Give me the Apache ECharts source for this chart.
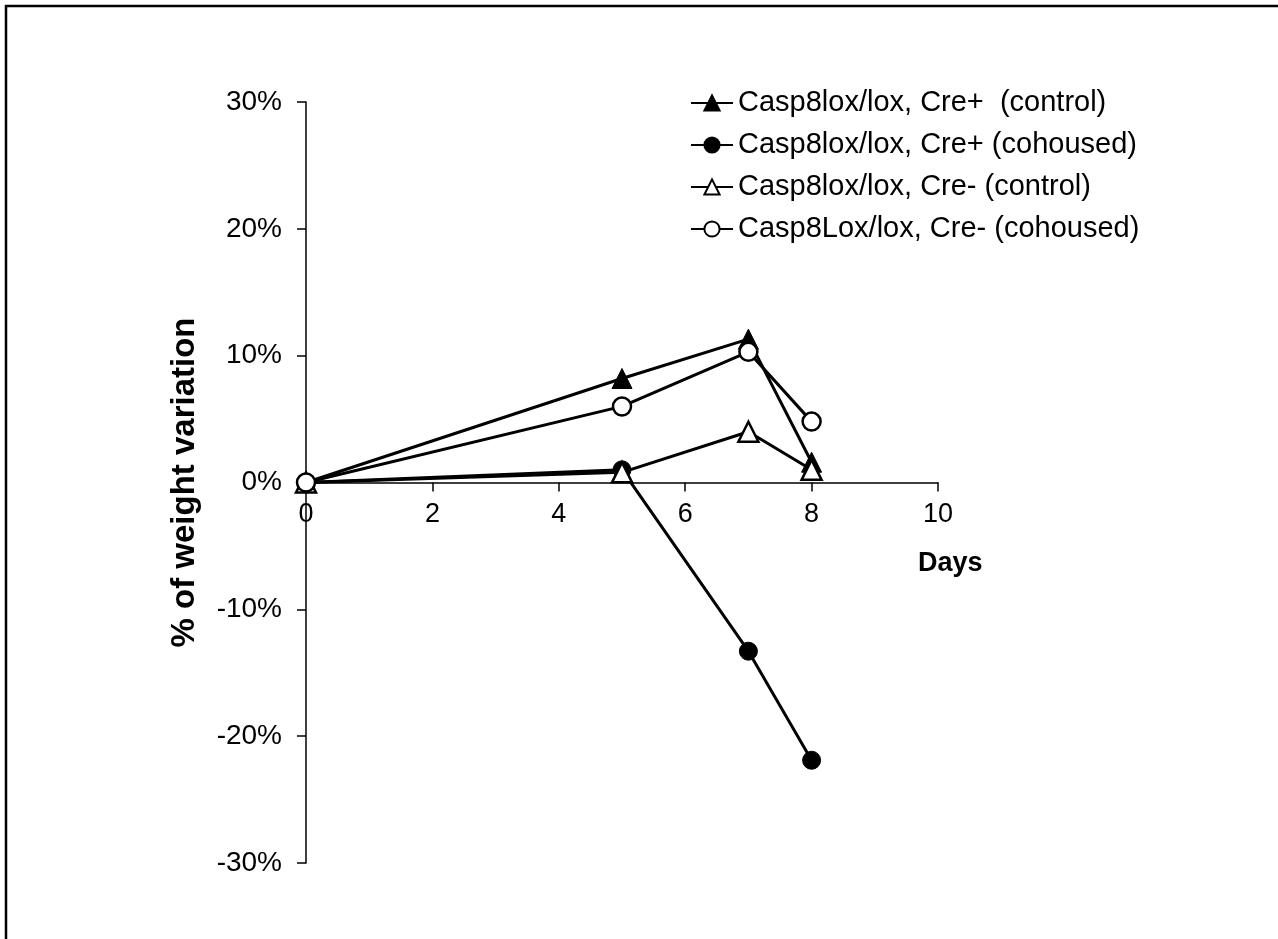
<!DOCTYPE html>
<html><head><meta charset="utf-8">
<script src="https://cdn.jsdelivr.net/npm/echarts@6/dist/echarts.min.js"></script>
<style>html,body{margin:0;padding:0;background:#fff}#c{width:1278px;height:939px}</style>
</head><body><div id="c"></div>
<script>
// ---- data ----
const days = [0, 5, 7, 8];
const seriesNames = [
  'Casp8lox/lox, Cre+  (control)',
  'Casp8lox/lox, Cre+ (cohoused)',
  'Casp8lox/lox, Cre- (control)',
  'Casp8Lox/lox, Cre- (cohoused)'
];
const crePlusControl   = [0, 8.2, 11.3, 1.6];
const crePlusCohoused  = [0, 1.0, -13.3, -21.9];
const creMinusControl  = [0, 0.8, 4.0, 1.0];
const creMinusCohoused = [0, 6.0, 10.3, 4.8];
const xTicks = [0, 2, 4, 6, 8, 10];
const yTicks = [-30, -20, -10, 0, 10, 20, 30];
const xAxisTitle = 'Days';
const yAxisTitle = '% of weight variation';

const pairs = arr => days.map((d, i) => [d, arr[i]]);
const allValues = [crePlusControl, crePlusCohoused, creMinusControl, creMinusCohoused];
const symbols = ['triangle', 'circle', 'triangle', 'circle'];
const filled = [true, true, false, false];

const gridTop = 102, gridBottom = 76, chartH = 939;
const plotH = chartH - gridTop - gridBottom;
const yMin = yTicks[0], yMax = yTicks[yTicks.length - 1];
// distance (px) from the grid bottom up to the value-0 line
const zeroOffset = plotH * (0 - yMin) / (yMax - yMin);

const chart = echarts.init(document.getElementById('c'), null, {renderer: 'canvas'});
const font = "'Liberation Sans', Arial, sans-serif";

chart.setOption({
  animation: false,
  backgroundColor: '#fff',
  grid: {left: 306, right: 340, top: gridTop, bottom: gridBottom, containLabel: false},
  legend: {
    orient: 'vertical', left: 690, top: 88, padding: 0,
    itemWidth: 42, itemHeight: 19, itemGap: 12,
    data: seriesNames,
    textStyle: {fontFamily: font, fontSize: 29, color: '#000', lineHeight: 30}
  },
  xAxis: {
    type: 'value', min: xTicks[0], max: xTicks[xTicks.length - 1], interval: 2,
    position: 'bottom', offset: -zeroOffset,
    axisLine: {onZero: false, lineStyle: {color: '#000', width: 1.5}},
    axisTick: {show: true, inside: false, length: 9, lineStyle: {color: '#000', width: 1.5}},
    axisLabel: {fontFamily: font, fontSize: 27, color: '#000', margin: 19},
    splitLine: {show: false}
  },
  yAxis: {
    type: 'value', min: yMin, max: yMax, interval: 10,
    name: yAxisTitle, nameLocation: 'middle', nameGap: 105, nameRotate: 90,
    nameTextStyle: {fontFamily: font, fontWeight: 'bold', fontSize: 33, color: '#000'},
    axisLine: {show: true, lineStyle: {color: '#000', width: 1.5}},
    axisTick: {show: true, inside: false, length: 9, lineStyle: {color: '#000', width: 1.5}},
    axisLabel: {fontFamily: font, fontSize: 28, color: '#000', margin: 24, formatter: '{value}%'},
    splitLine: {show: false}
  },
  graphic: [
    {type: 'line', shape: {x1: 6, y1: 5, x2: 6, y2: 939}, style: {stroke: '#000', lineWidth: 2.5}},
    {type: 'line', shape: {x1: 5, y1: 6, x2: 1278, y2: 6}, style: {stroke: '#000', lineWidth: 2.5}},
    {type: 'text', left: 918, top: 550, style: {text: xAxisTitle, font: "bold 27px 'Liberation Sans', Arial, sans-serif", fill: '#000'}}
  ],
  series: allValues.map((vals, i) => ({
    name: seriesNames[i],
    type: 'line',
    data: pairs(vals),
    symbol: symbols[i],
    symbolSize: symbols[i] === 'circle' ? 18 : 20,
    showAllSymbol: true,
    lineStyle: {color: '#000', width: 3},
    itemStyle: filled[i]
      ? {color: '#000', borderColor: '#000', borderWidth: 1}
      : {color: '#fff', borderColor: '#000', borderWidth: 2.5},
    emphasis: {disabled: true},
    z: 2 + i
  }))
});
</script></body></html>
